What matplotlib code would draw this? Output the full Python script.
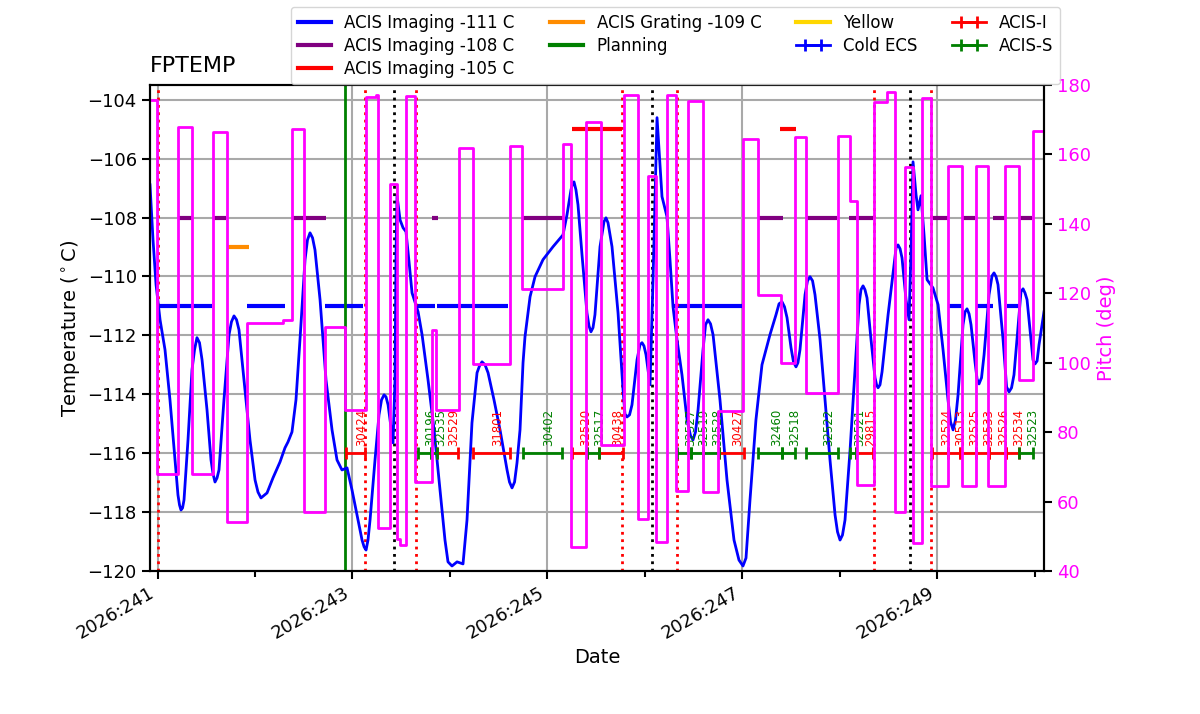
import numpy as np
import matplotlib
matplotlib.use('Agg')
import matplotlib.pyplot as plt
from matplotlib.lines import Line2D

# ---------------- data ----------------
temp_day = [240.923, 240.954, 240.985, 241.026, 241.077, 241.128, 241.180, 241.210, 241.241, 241.272,
            241.313, 241.354, 241.405, 241.457, 241.508, 241.549, 241.590, 241.631, 241.682, 241.734,
            241.785, 241.836, 241.898, 241.949, 242.001, 242.062, 242.124, 242.185, 242.257, 242.308,
            242.339, 242.380, 242.421, 242.462, 242.514, 242.565, 242.616, 242.668, 242.729, 242.791,
            242.842, 242.893, 242.945, 242.996, 243.058, 243.099, 243.140, 243.181, 243.232, 243.273,
            243.325, 243.366, 243.417, 243.437, 243.448, 243.458, 243.489, 243.520, 243.550, 243.581,
            243.612, 243.674, 243.715, 243.776, 243.838, 243.899, 243.950, 243.981, 244.022, 244.074,
            244.135, 244.176, 244.227, 244.279, 244.330, 244.392, 244.453, 244.515, 244.587, 244.638,
            244.689, 244.720, 244.751, 244.771, 244.823, 244.874, 244.956, 245.059, 245.161, 245.202,
            245.243, 245.274, 245.315, 245.356, 245.407, 245.448, 245.489, 245.541, 245.602, 245.664,
            245.726, 245.777, 245.818, 245.869, 245.921, 245.972, 246.013, 246.054, 246.085, 246.126,
            246.157, 246.177, 246.228, 246.259, 246.290, 246.331, 246.382, 246.434, 246.495, 246.547,
            246.598, 246.649, 246.701, 246.772, 246.844, 246.916, 246.967, 247.008, 247.039, 247.080,
            247.141, 247.203, 247.285, 247.347, 247.408, 247.460, 247.501, 247.552, 247.593, 247.645,
            247.696, 247.747, 247.799, 247.850, 247.901, 247.953, 248.004, 248.055, 248.107, 248.158,
            248.199, 248.240, 248.281, 248.322, 248.363, 248.394, 248.435, 248.497, 248.558, 248.599,
            248.640, 248.681, 248.712, 248.733, 248.753, 248.784, 248.804, 248.835, 248.866, 248.897,
            248.958, 249.010, 249.061, 249.112, 249.164, 249.215, 249.266, 249.307, 249.348, 249.389,
            249.430, 249.482, 249.533, 249.584, 249.625, 249.677, 249.738, 249.789, 249.841, 249.882,
            249.923, 249.964, 250.005, 250.046, 250.097,
            # extra readings near turning points
            241.226, 241.257, 241.380, 241.431, 241.570, 241.611, 241.759, 241.811, 242.031,
            242.539, 242.591, 243.120, 243.160, 243.299, 243.345, 244.304, 244.361, 244.612,
            244.664, 245.259, 245.294, 245.428, 245.469, 245.582, 245.623, 245.797, 245.844,
            245.951, 245.992, 246.470, 246.521, 246.624, 246.675, 247.378, 247.434, 247.526,
            247.572, 247.670, 247.722, 247.978, 248.029, 248.219, 248.260, 248.379, 248.414,
            248.579, 248.620, 249.138, 249.189, 249.287, 249.328, 249.410, 249.456, 249.564,
            249.605, 249.713, 249.764, 249.861, 249.902, 249.984, 250.026]
temp_val = [-106.89, -108.76, -110.28, -111.47, -112.49, -114.19, -116.23, -117.42, -117.93, -117.59,
            -115.55, -113.17, -112.08, -112.83, -114.53, -116.23, -116.98, -116.57, -114.19, -111.98,
            -111.34, -111.81, -113.85, -115.55, -116.91, -117.52, -117.35, -116.84, -116.30, -115.82,
            -115.62, -115.28, -114.19, -112.15, -109.43, -108.52, -109.10, -110.79, -113.51, -115.21,
            -116.23, -116.57, -116.50, -117.25, -118.27, -118.95, -119.29, -118.27, -116.23, -114.70,
            -114.02, -114.36, -115.65, -113.51, -109.10, -107.26, -108.08, -108.35, -108.48, -109.50,
            -110.56, -111.20, -111.98, -113.51, -115.21, -117.25, -118.95, -119.69, -119.83, -119.69,
            -119.76, -118.27, -114.97, -113.27, -112.90, -113.27, -114.19, -115.21, -116.57, -117.18,
            -116.33, -115.21, -112.93, -112.05, -110.69, -110.01, -109.43, -108.99, -108.59, -107.91,
            -107.06, -106.79, -107.57, -109.26, -111.24, -111.88, -111.30, -108.99, -108.01, -108.99,
            -111.24, -113.85, -114.77, -114.36, -112.83, -112.25, -112.66, -113.68, -110.11, -104.61,
            -106.21, -107.29, -107.97, -109.43, -111.03, -112.15, -113.34, -114.87, -115.55, -114.53,
            -112.49, -111.47, -111.98, -114.19, -116.91, -118.95, -119.63, -119.83, -119.56, -117.59,
            -114.87, -113.00, -111.98, -111.30, -110.86, -111.40, -112.42, -113.07, -112.49, -110.62,
            -110.01, -110.62, -112.15, -114.19, -116.23, -118.10, -118.95, -118.27, -115.89, -113.17,
            -110.96, -110.32, -110.73, -112.15, -113.44, -113.78, -113.24, -111.30, -109.60, -108.93,
            -109.37, -110.79, -111.47, -109.10, -106.11, -107.23, -107.74, -107.26, -108.59, -110.11,
            -110.39, -110.96, -112.49, -114.19, -115.21, -114.02, -111.64, -111.10, -111.64, -112.90,
            -113.65, -112.66, -110.62, -109.88, -110.28, -112.15, -113.92, -113.34, -111.30, -110.42,
            -110.79, -112.15, -112.97, -112.32, -111.20,
            -117.76, -117.86, -112.49, -112.25, -116.70, -116.84, -111.54, -111.47, -117.32,
            -108.76, -108.69, -119.18, -118.95, -114.19, -114.09, -113.04, -113.00, -116.98,
            -116.98, -106.85, -107.06, -111.68, -111.74, -108.14, -108.18, -114.67, -114.70,
            -112.32, -112.36, -115.41, -115.28, -111.64, -111.61, -110.93, -111.03, -112.90,
            -112.93, -110.15, -110.15, -118.67, -118.78, -110.45, -110.45, -113.68, -113.68,
            -109.03, -109.06, -114.94, -114.87, -111.20, -111.27, -113.48, -113.44, -109.98,
            -110.01, -113.75, -113.78, -110.52, -110.56, -112.83, -112.87]

pitch_day = [240.923, 240.995, 241.210, 241.354, 241.570, 241.713, 241.918, 242.288, 242.380, 242.503,
             242.719, 242.924, 243.140, 243.243, 243.263, 243.386, 243.458, 243.489, 243.550, 243.643,
             243.817, 243.858, 244.094, 244.238, 244.617, 244.741, 245.161, 245.243, 245.397, 245.551,
             245.787, 245.931, 246.034, 246.116, 246.228, 246.321, 246.444, 246.598, 246.752, 247.008,
             247.162, 247.398, 247.542, 247.655, 247.983, 248.107, 248.179, 248.353, 248.487, 248.569,
             248.671, 248.753, 248.845, 248.938, 249.112, 249.256, 249.399, 249.523, 249.697, 249.841,
             249.985, 250.097]
pitch_val = [175.6, 68.0, 167.8, 68.0, 166.4, 54.1, 111.3, 112.4, 167.2, 57.0,
             110.4, 86.5, 176.5, 177.0, 52.4, 151.4, 49.2, 47.5, 176.8, 65.7,
             109.5, 86.5, 161.8, 99.7, 162.3, 121.1, 162.9, 46.9, 169.3, 76.4,
             177.0, 55.0, 153.7, 48.4, 177.0, 63.1, 175.3, 62.8, 86.2, 164.4,
             119.6, 100.0, 164.9, 91.4, 165.2, 146.5, 64.8, 175.0, 177.9, 57.0,
             156.3, 48.1, 176.2, 64.5, 156.8, 64.5, 156.8, 64.5, 156.8, 95.1,
             166.7, 166.7]

# limit segments (start, end) in day-of-year
lim111_start = [241.005, 241.918, 242.719, 243.663, 243.869, 246.280, 249.112, 249.409, 249.718]
lim111_end   = [241.559, 242.308, 243.109, 243.848, 244.597, 246.998, 249.266, 249.574, 249.851]
lim108_start = [241.210, 241.570, 242.390, 243.817, 244.751, 247.172, 247.665, 248.096,
                248.958, 249.266, 249.574, 249.851]
lim108_end   = [241.354, 241.703, 242.729, 243.879, 245.161, 247.419, 247.973, 248.342,
                249.112, 249.389, 249.697, 249.974]
lim105_start = [245.254, 247.388]
lim105_end   = [245.767, 247.552]
lim109_start = [241.723]
lim109_end   = [241.939]

# observations
obsid_label = ['30424', '30196', '32535', '32529', '31801', '30402', '32520', '32517', '30438',
               '32527', '32519', '32528', '30427', '32460', '32518', '32522', '32521', '29815',
               '32524', '30513', '32525', '32533', '32526', '32534', '32523']
obsid_inst = ['I', 'S', 'S', 'I', 'I', 'S', 'I', 'S', 'I',
              'S', 'S', 'S', 'I', 'S', 'S', 'S', 'S', 'I',
              'I', 'I', 'I', 'I', 'I', 'I', 'S']
obsid_start = [242.934, 243.674, 243.807, 243.869, 244.238, 244.751, 245.254, 245.407, 245.531,
               246.331, 246.475, 246.598, 246.762, 247.162, 247.408, 247.655, 248.107, 248.169,
               248.948, 249.112, 249.235, 249.399, 249.533, 249.708, 249.841]
obsid_end = [243.129, 243.807, 243.869, 244.084, 244.617, 245.151, 245.407, 245.531, 245.777,
             246.475, 246.598, 246.762, 247.018, 247.408, 247.542, 247.983, 248.169, 248.343,
             249.112, 249.235, 249.399, 249.533, 249.708, 249.841, 249.985]

red_dotted_days = [241.005, 243.129, 243.653, 245.767, 246.331, 248.353, 248.938]
black_dotted_days = [243.427, 246.075, 248.722]
planning_day = [242.924]

major_days = [241, 243, 245, 247, 249]
major_labels = ['2026:241', '2026:243', '2026:245', '2026:247', '2026:249']
minor_days = [242, 244, 246, 248, 250]
temp_ticks = [-120, -118, -116, -114, -112, -110, -108, -106, -104]
pitch_ticks = [40, 60, 80, 100, 120, 140, 160, 180]

# ---------------- plot ----------------
fig = plt.figure(figsize=(12, 7.14), dpi=100)
ax = fig.add_axes([0.125, 0.2003, 0.745, 0.6807])

ax.grid(True, which='major', color='darkgray', lw=1.5)


def seg(level, starts, ends, color):
    ax.hlines([level] * len(starts), starts, ends, color=color, lw=3)


seg(-111, lim111_start, lim111_end, 'blue')
seg(-108, lim108_start, lim108_end, 'purple')
seg(-105, lim105_start, lim105_end, 'red')
seg(-109, lim109_start, lim109_end, 'darkorange')

for d in red_dotted_days:
    ax.axvline(d, color='red', ls=':', lw=2)
for d in black_dotted_days:
    ax.axvline(d, color='black', ls=':', lw=2)
for d in planning_day:
    ax.axvline(d, color='green', lw=2)

order = np.argsort(temp_day)
ax.plot(np.array(temp_day)[order], np.array(temp_val)[order], color='blue', lw=2)

inst_color = {'I': 'red', 'S': 'green'}
for inst in ['I', 'S']:
    s = np.array([a for a, k in zip(obsid_start, obsid_inst) if k == inst])
    e = np.array([b for b, k in zip(obsid_end, obsid_inst) if k == inst])
    ax.errorbar((s + e) / 2, np.full(len(s), -116.0), xerr=(e - s) / 2, fmt='none',
                ecolor=inst_color[inst], elinewidth=2, capsize=4, capthick=2)
for s, e, lab, k in zip(obsid_start, obsid_end, obsid_label, obsid_inst):
    ax.text((s + e) / 2, -115.75, lab, rotation=90, color=inst_color[k], fontsize=8.5,
            ha='left', va='bottom')

ax.set_xlim(240.923, 250.097)
ax.set_ylim(-120, -103.5)
ax.set_yticks(temp_ticks)
ax.set_xticks(major_days)
ax.set_xticklabels(major_labels, rotation=30, ha='right')
ax.set_xticks(minor_days, minor=True)
ax.tick_params(axis='both', which='major', labelsize=13, length=6, width=1.5)
ax.tick_params(axis='x', which='minor', length=4, width=1.5)
for sp in ax.spines.values():
    sp.set_linewidth(1.5)
ax.set_xlabel('Date', fontsize=14)
ax.set_ylabel('Temperature ($^\\circ$C)', fontsize=14)
ax.set_title('FPTEMP', loc='left', fontsize=16, pad=9)

ax2 = ax.twinx()
ax2.step(pitch_day, pitch_val, where='post', color='magenta', lw=2)
ax2.set_ylim(40, 180)
ax2.set_yticks(pitch_ticks)
ax2.tick_params(axis='y', labelsize=13, labelcolor='magenta', length=6, width=1.5)
for sp in ax2.spines.values():
    sp.set_linewidth(1.5)
ax2.set_ylabel('Pitch (deg)', color='magenta', fontsize=14)

# legend
handles = [Line2D([], [], color='blue', lw=3, label='ACIS Imaging -111 C'),
           Line2D([], [], color='purple', lw=3, label='ACIS Imaging -108 C'),
           Line2D([], [], color='red', lw=3, label='ACIS Imaging -105 C'),
           Line2D([], [], color='darkorange', lw=3, label='ACIS Grating -109 C'),
           Line2D([], [], color='green', lw=3, label='Planning'),
           Line2D([], [], color='gold', lw=3, label='Yellow')]
for col, lab in [('blue', 'Cold ECS'), ('red', 'ACIS-I'), ('green', 'ACIS-S')]:
    eb = ax.errorbar([np.nan], [np.nan], xerr=[np.nan], fmt='-', color=col, lw=2,
                     capsize=4, capthick=2, label=lab)
    handles.append(eb)
fig.legend(handles=handles, loc='upper right', bbox_to_anchor=(1060 / 1200, 1 - 7 / 714),
           ncol=4, fontsize=12, labelspacing=0.3, borderaxespad=0, columnspacing=2.1)

fig.savefig('out.png', dpi=100)
